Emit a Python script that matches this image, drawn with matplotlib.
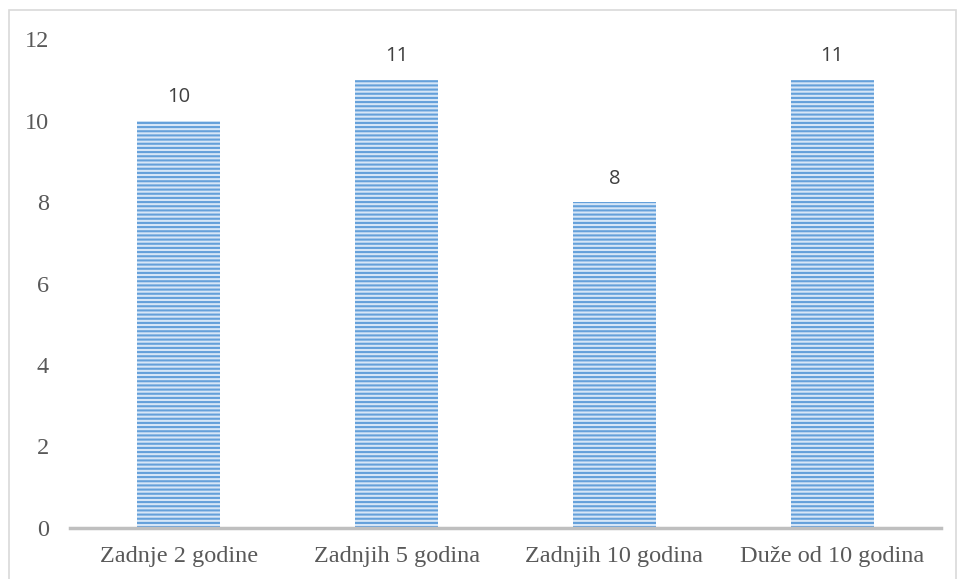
import matplotlib.pyplot as plt
from matplotlib.patches import Rectangle

# Values
categories = ['Zadnje 2 godine', 'Zadnjih 5 godina', 'Zadnjih 10 godina', 'Duže od 10 godina']
counts = [10, 11, 8, 11]
y_ticks = [0, 2, 4, 6, 8, 10, 12]

plt.rcParams['hatch.linewidth'] = 1.5
plt.rcParams['hatch.color'] = '#64a0da'

fig = plt.figure(figsize=(9.57, 5.79), dpi=100)
ax = fig.add_axes([0.0731, 0.0881, 0.9102, 0.8445])

x = range(len(categories))
bars = ax.bar(x, counts, width=0.38, color='#d6e6f7', edgecolor='#64a0da',
              linewidth=0, hatch='----', zorder=2)

for b, v in zip(bars, counts):
    ax.text(b.get_x() + b.get_width() / 2, v + 0.33, str(v), ha='center', va='bottom',
            fontsize=14.5, color='#404040', family='Open Sans')

ax.set_xlim(-0.5, len(categories) - 0.5)
ax.set_ylim(0, 12)
ax.set_yticks(y_ticks)
ax.set_xticks(list(x))
ax.set_xticklabels(categories)

for lbl in ax.get_xticklabels() + ax.get_yticklabels():
    lbl.set_family('Liberation Serif')
    lbl.set_fontsize(17.5)
    lbl.set_color('#595959')

ax.tick_params(axis='both', length=0)
ax.tick_params(axis='y', pad=15)
ax.tick_params(axis='x', pad=13)

for s in ['top', 'right', 'left']:
    ax.spines[s].set_visible(False)
ax.spines['bottom'].set_color('#bfbfbf')
ax.spines['bottom'].set_linewidth(2.5)
ax.spines['bottom'].set_zorder(3)

# Light frame around the chart area
fig.patches.append(Rectangle((9 / 957, -0.05), 947 / 957, 1.05 - 10 / 579,
                             transform=fig.transFigure, fill=False,
                             edgecolor='#d9d9d9', linewidth=1.2))

fig.savefig('out.png', dpi=100)
